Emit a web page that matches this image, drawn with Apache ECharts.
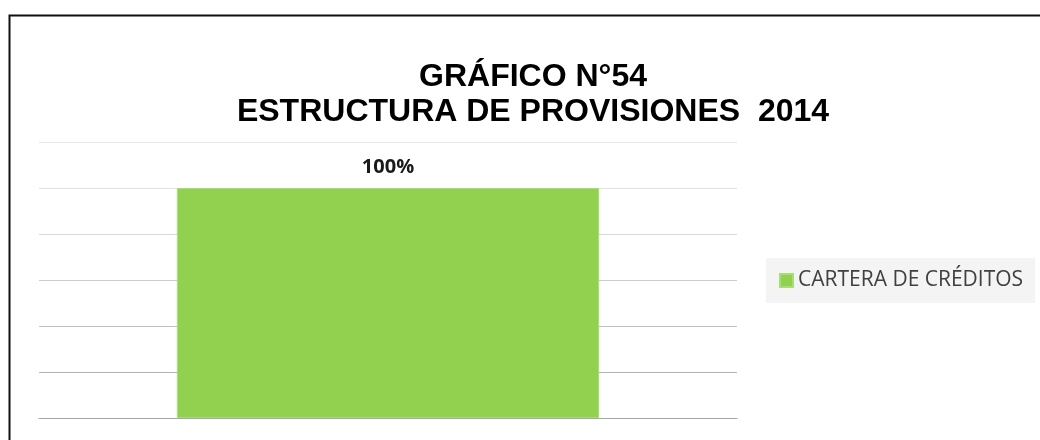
<!DOCTYPE html>
<html>
<head>
<meta charset="utf-8">
<title>Estructura de provisiones 2014</title>
<script src="https://cdn.jsdelivr.net/npm/echarts@6/dist/echarts.min.js"></script>
<style>
  html, body { margin: 0; padding: 0; background: #ffffff; }
  #chart { width: 1040px; height: 440px; }
</style>
</head>
<body>
<div id="chart"></div>
<script>
// Chart data
const categories = ['CARTERA DE CRÉDITOS'];
const seriesName = 'CARTERA DE CRÉDITOS';
const shareValues = [100];          // percent of total provisions
const axisMin = 0;
const axisMax = 120;
const axisStep = 20;

// gridlines fade from the baseline upward
const gridColors = ['#a6a6a6', '#b3b3b3', '#c0c0c0', '#cdcdcd', '#d9d9d9', '#e1e1e1', '#e7e7e7'];

const chart = echarts.init(document.getElementById('chart'), null, { renderer: 'canvas' });

chart.setOption({
  backgroundColor: '#ffffff',
  animation: false,
  title: {
    text: 'GRÁFICO N°54\nESTRUCTURA DE PROVISIONES  2014',
    left: 528,
    textAlign: 'center',
    top: 55,
    textStyle: {
      fontFamily: '"Liberation Sans", Arial, sans-serif',
      fontWeight: 'bold',
      fontSize: 32,
      lineHeight: 35,
      color: '#000000'
    }
  },
  legend: {
    data: [seriesName],
    orient: 'vertical',
    left: 766,
    top: 258,
    padding: [12, 12, 12, 13],
    backgroundColor: '#f4f4f4',
    itemWidth: 13,
    itemHeight: 13,
    itemGap: 0,
    icon: 'rect',
    textStyle: {
      fontFamily: '"Open Sans", sans-serif',
      fontSize: 21,
      color: '#404040'
    }
  },
  grid: {
    left: 39,
    right: 303,
    top: 142,
    bottom: 22,
    containLabel: false
  },
  xAxis: {
    type: 'category',
    data: categories,
    axisLine: { show: true, lineStyle: { color: '#a6a6a6', width: 1 } },
    axisTick: { show: false },
    axisLabel: { show: false }
  },
  yAxis: {
    type: 'value',
    min: axisMin,
    max: axisMax,
    interval: axisStep,
    axisLine: { show: false },
    axisTick: { show: false },
    axisLabel: { show: false },
    splitLine: { show: true, lineStyle: { color: gridColors, width: 1 } }
  },
  series: [{
    name: seriesName,
    type: 'bar',
    data: shareValues,
    barWidth: '60.5%',
    itemStyle: { color: '#92d050', borderColor: '#a8dc78', borderWidth: 1 },
    label: {
      show: true,
      position: 'top',
      distance: 11,
      formatter: p => p.value + '%',
      fontFamily: '"Open Sans", sans-serif',
      fontWeight: 'bold',
      fontSize: 20,
      color: '#1a1a1a'
    }
  }],
  graphic: [{
    type: 'polyline',
    shape: { points: [[9.5, 440], [9.5, 15.5], [1040, 15.5]] },
    style: { stroke: '#111111', lineWidth: 2, fill: null },
    silent: true
  }]
});
</script>
</body>
</html>
